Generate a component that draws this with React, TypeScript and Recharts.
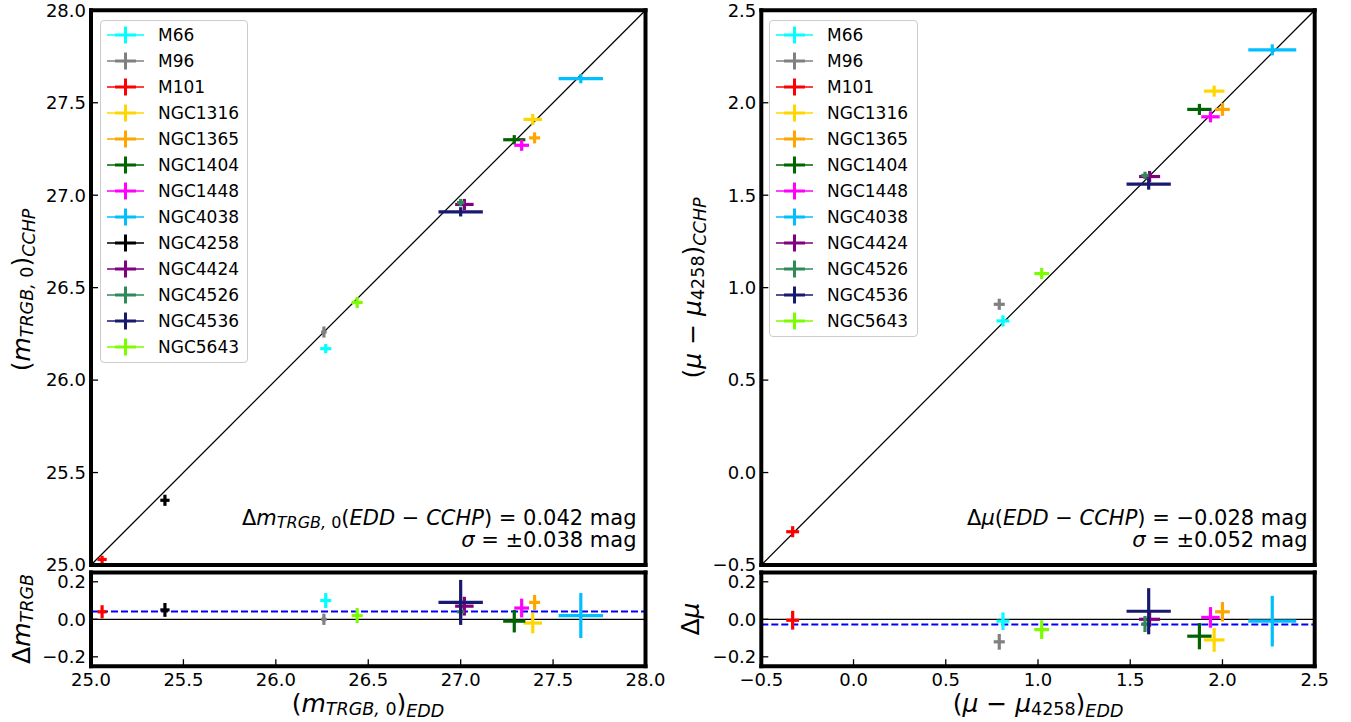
import React from 'react';
import { ScatterChart, Scatter, XAxis, YAxis, ErrorBar, ReferenceLine } from 'recharts';

const FONT = '"DejaVu Sans", Verdana, sans-serif';

// left panel: TRGB magnitudes, EDD (x) vs CCHP (y)
const namesA = ['M66', 'M96', 'M101', 'NGC1316', 'NGC1365', 'NGC1404', 'NGC1448', 'NGC4038', 'NGC4258', 'NGC4424', 'NGC4526', 'NGC4536', 'NGC5643'];
const colorsA = ['#00ffff', '#808080', '#ff0000', '#ffd700', '#ffa500', '#006400', '#ff00ff', '#00bfff', '#000000', '#800080', '#2e8b57', '#191970', '#7cfc00'];
const eddA = [26.27, 26.26, 25.06, 27.39, 27.40, 27.29, 27.33, 27.65, 25.40, 27.02, 27.00, 27.00, 26.44];
const cchpA = [26.17, 26.26, 25.03, 27.41, 27.31, 27.30, 27.27, 27.63, 25.35, 26.95, 26.96, 26.91, 26.42];
const eddErrA = [0.03, 0.015, 0.025, 0.05, 0.03, 0.06, 0.04, 0.12, 0.025, 0.05, 0.02, 0.12, 0.03];
const cchpErrA = [0.025, 0.03, 0.02, 0.03, 0.03, 0.025, 0.03, 0.025, 0.03, 0.03, 0.02, 0.025, 0.03];
const diffA = [0.10, 0.00, 0.04, -0.02, 0.09, -0.01, 0.06, 0.02, 0.05, 0.07, 0.04, 0.09, 0.02];
const diffErrA = [0.04, 0.03, 0.035, 0.055, 0.04, 0.06, 0.05, 0.12, 0.037, 0.05, 0.03, 0.12, 0.04];
const meanA = 0.042;

// right panel: distance moduli relative to NGC4258
const namesB = ['M66', 'M96', 'M101', 'NGC1316', 'NGC1365', 'NGC1404', 'NGC1448', 'NGC4038', 'NGC4424', 'NGC4526', 'NGC4536', 'NGC5643'];
const colorsB = ['#00ffff', '#808080', '#ff0000', '#ffd700', '#ffa500', '#006400', '#ff00ff', '#00bfff', '#800080', '#2e8b57', '#191970', '#7cfc00'];
const eddB = [0.81, 0.79, -0.33, 1.955, 2.00, 1.875, 1.935, 2.27, 1.605, 1.58, 1.60, 1.02];
const cchpB = [0.82, 0.91, -0.32, 2.063, 1.964, 1.964, 1.924, 2.286, 1.601, 1.607, 1.56, 1.076];
const eddErrB = [0.035, 0.03, 0.035, 0.056, 0.04, 0.066, 0.05, 0.13, 0.057, 0.02, 0.12, 0.04];
const cchpErrB = [0.03, 0.03, 0.03, 0.03, 0.035, 0.03, 0.03, 0.03, 0.03, 0.02, 0.03, 0.03];
const diffB = [-0.01, -0.12, -0.005, -0.11, 0.04, -0.09, 0.01, -0.01, 0.0, -0.025, 0.043, -0.055];
const diffErrB = [0.047, 0.042, 0.05, 0.063, 0.052, 0.07, 0.055, 0.135, 0.04, 0.043, 0.123, 0.05];
const meanB = -0.028;

const ticksA = [25, 25.5, 26, 26.5, 27, 27.5, 28];
const ticksB = [-0.5, 0, 0.5, 1, 1.5, 2, 2.5];
const ticksRes = [-0.2, 0, 0.2];

type Pt = { x: number; y: number; xe: number; ye: number };
type Series = { name: string; color: string; pts: Pt[] };

const seriesOf = (names: string[], colors: string[], xs: number[], ys: number[], xe: number[], ye: number[]): Series[] =>
  names.map((name, i) => ({ name, color: colors[i], pts: [{ x: xs[i], y: ys[i], xe: xe[i], ye: ye[i] }] }));

const mainA = seriesOf(namesA, colorsA, eddA, cchpA, eddErrA, cchpErrA);
const resA = seriesOf(namesA, colorsA, eddA, diffA, eddErrA, diffErrA);
const mainB = seriesOf(namesB, colorsB, eddB, cchpB, eddErrB, cchpErrB);
const resB = seriesOf(namesB, colorsB, eddB, diffB, eddErrB, diffErrB);

const fmt = (v: number) => (v < 0 ? '\u2212' : '') + Math.abs(v).toFixed(1);

const axisLine = { stroke: '#000', strokeWidth: 4, strokeLinecap: 'square' as const };
const tickLine = { stroke: '#000', strokeWidth: 1.3 };
const tickFont = { fontSize: 18, fill: '#000', fontFamily: FONT };

function Plot(props: {
  width: number;
  height: number;
  margin: { top: number; right: number; bottom: number; left: number };
  yWidth: number;
  xDomain: [number, number];
  yDomain: [number, number];
  xTicks: number[];
  yTicks: number[];
  showX: boolean;
  series: Series[];
  children?: React.ReactNode;
}) {
  const { width, height, margin, yWidth, xDomain, yDomain, xTicks, yTicks, showX, series, children } = props;
  // top / bottom / right axes get a 1px box (a zero-sized axis is not drawn)
  const m = { top: margin.top - 1, right: margin.right - 1, bottom: margin.bottom - 1, left: margin.left };
  return (
    <ScatterChart width={width} height={height} margin={m}>
      <XAxis xAxisId="b" type="number" dataKey="x" domain={xDomain} ticks={xTicks} interval={0} orientation="bottom"
        height={1} tickSize={-7} tickMargin={14} tick={showX ? tickFont : false} tickFormatter={fmt}
        axisLine={axisLine} tickLine={tickLine} allowDataOverflow />
      <XAxis xAxisId="t" type="number" domain={xDomain} ticks={xTicks} interval={0} orientation="top"
        height={1} tickSize={-7} tick={false} axisLine={axisLine} tickLine={tickLine} allowDataOverflow />
      <YAxis yAxisId="l" type="number" dataKey="y" domain={yDomain} ticks={yTicks} interval={0} width={yWidth}
        tickSize={-7} tickMargin={12} tick={tickFont} tickFormatter={fmt}
        axisLine={axisLine} tickLine={tickLine} allowDataOverflow />
      <YAxis yAxisId="r" type="number" orientation="right" domain={yDomain} ticks={yTicks} interval={0} width={1}
        tickSize={-7} tick={false} axisLine={axisLine} tickLine={tickLine} allowDataOverflow />
      {children}
      {series.map((s) => (
        <Scatter key={s.name} name={s.name} data={s.pts} xAxisId="b" yAxisId="l" shape={() => <g />}
          legendType="none" isAnimationActive={false}>
          <ErrorBar dataKey="xe" direction="x" width={0} stroke={s.color} strokeWidth={3.2} isAnimationActive={false} />
          <ErrorBar dataKey="ye" direction="y" width={0} stroke={s.color} strokeWidth={3.2} isAnimationActive={false} />
        </Scatter>
      ))}
    </ScatterChart>
  );
}

function LegendBox({ names, colors, left, width }: { names: string[]; colors: string[]; left: number; width: number }) {
  return (
    <div style={{
      position: 'absolute', left, top: 20, width, boxSizing: 'border-box', padding: '1px 0 2px 0',
      border: '1px solid #cccccc', borderRadius: 4, background: 'rgba(255,255,255,0.8)',
      fontFamily: FONT, fontSize: 17, color: '#000',
    }}>
      {names.map((n, i) => (
        <div key={n} style={{ height: 26, display: 'flex', alignItems: 'center' }}>
          <svg width={50} height={26} style={{ marginLeft: 6, flex: 'none' }}>
            <line x1={0} x2={37} y1={13} y2={13} stroke={colors[i]} strokeWidth={1.5} />
            <line x1={8} x2={29} y1={13} y2={13} stroke={colors[i]} strokeWidth={3} />
            <line x1={18.5} x2={18.5} y1={4.5} y2={21.5} stroke={colors[i]} strokeWidth={3} />
          </svg>
          <span style={{ marginLeft: 1 }}>{n}</span>
        </div>
      ))}
    </div>
  );
}

const T = 25; // axis title size
const S = 17.5; // subscript size

function Labels() {
  const it = { fontStyle: 'italic' as const };
  return (
    <svg width={1351} height={722} style={{ position: 'absolute', left: 0, top: 0, pointerEvents: 'none' }}
      fontFamily={FONT} fill="#000">
      {/* left axis titles */}
      <text x={368} y={712} fontSize={T} textAnchor="middle">
        (<tspan {...it}>m</tspan>
        <tspan dy={3} fontSize={S} {...it}>TRGB, </tspan><tspan fontSize={S}>0</tspan>
        <tspan dy={-3}>)</tspan>
        <tspan dy={5} fontSize={S} {...it}>EDD</tspan>
      </text>
      <text transform="translate(30,290) rotate(-90)" fontSize={T} textAnchor="middle">
        (<tspan {...it}>m</tspan>
        <tspan dy={3} fontSize={S} {...it}>TRGB, </tspan><tspan fontSize={S}>0</tspan>
        <tspan dy={-3}>)</tspan>
        <tspan dy={5} fontSize={S} {...it}>CCHP</tspan>
      </text>
      <text transform="translate(30,619) rotate(-90)" fontSize={T} textAnchor="middle">
        {'\u0394'}<tspan {...it}>m</tspan>
        <tspan dy={3} fontSize={S} {...it}>TRGB</tspan>
      </text>
      {/* right axis titles */}
      <text x={1038} y={712} fontSize={T} textAnchor="middle">
        (<tspan {...it}>{'\u03bc'}</tspan>{' \u2212 '}<tspan {...it}>{'\u03bc'}</tspan>
        <tspan dy={3} fontSize={S}>4258</tspan>
        <tspan dy={-3}>)</tspan>
        <tspan dy={5} fontSize={S} {...it}>EDD</tspan>
      </text>
      <text transform="translate(701,288) rotate(-90)" fontSize={T} textAnchor="middle">
        (<tspan {...it}>{'\u03bc'}</tspan>{' \u2212 '}<tspan {...it}>{'\u03bc'}</tspan>
        <tspan dy={3} fontSize={S}>4258</tspan>
        <tspan dy={-3}>)</tspan>
        <tspan dy={5} fontSize={S} {...it}>CCHP</tspan>
      </text>
      <text transform="translate(699,619) rotate(-90)" fontSize={T} textAnchor="middle">
        {'\u0394'}<tspan {...it}>{'\u03bc'}</tspan>
      </text>
      {/* annotations */}
      <text x={636.5} y={525} fontSize={21} textAnchor="end">
        {'\u0394'}<tspan {...it}>m</tspan>
        <tspan dy={3} fontSize={16} {...it}>TRGB, </tspan><tspan fontSize={16}>0</tspan>
        <tspan dy={-3}>(</tspan><tspan {...it}>EDD</tspan>{' \u2212 '}<tspan {...it}>CCHP</tspan>{') = 0.042 mag'}
      </text>
      <text x={636.5} y={547} fontSize={21} textAnchor="end">
        <tspan {...it}>{'\u03c3'}</tspan>{' = \u00b10.038 mag'}
      </text>
      <text x={1307.5} y={525} fontSize={21} textAnchor="end">
        {'\u0394'}<tspan {...it}>{'\u03bc'}</tspan>(<tspan {...it}>EDD</tspan>{' \u2212 '}<tspan {...it}>CCHP</tspan>{') = \u22120.028 mag'}
      </text>
      <text x={1307.5} y={547} fontSize={21} textAnchor="end">
        <tspan {...it}>{'\u03c3'}</tspan>{' = \u00b10.052 mag'}
      </text>
    </svg>
  );
}

export default function App() {
  const mainMargin = (right: number) => ({ top: 10.3, right, bottom: 15, left: 0 });
  const resMargin = (right: number) => ({ top: 12.4, right, bottom: 55.8, left: 0 });
  return (
    <div style={{ position: 'absolute', left: 0, top: 0, width: 1351, height: 722, background: '#fff', fontFamily: FONT }}>
      <div style={{ position: 'absolute', left: 0, top: 0 }}>
        <Plot width={680} height={580} margin={mainMargin(34.5)} yWidth={91} xDomain={[25, 28]} yDomain={[25, 28]}
          xTicks={ticksA} yTicks={ticksA} showX={false} series={mainA}>
          <ReferenceLine xAxisId="b" yAxisId="l" segment={[{ x: 25, y: 25 }, { x: 28, y: 28 }]} stroke="#000" strokeWidth={1.3} />
        </Plot>
      </div>
      <div style={{ position: 'absolute', left: 0, top: 560 }}>
        <Plot width={680} height={162} margin={resMargin(34.5)} yWidth={91} xDomain={[25, 28]} yDomain={[-0.25, 0.25]}
          xTicks={ticksA} yTicks={ticksRes} showX series={resA}>
          <ReferenceLine xAxisId="b" yAxisId="l" y={0} stroke="#000" strokeWidth={1.3} />
          <ReferenceLine xAxisId="b" yAxisId="l" y={meanA} stroke="#0000ff" strokeWidth={2} strokeDasharray="7 3" />
        </Plot>
      </div>
      <div style={{ position: 'absolute', left: 680, top: 0 }}>
        <Plot width={660} height={580} margin={mainMargin(25.3)} yWidth={81.3} xDomain={[-0.5, 2.5]} yDomain={[-0.5, 2.5]}
          xTicks={ticksB} yTicks={ticksB} showX={false} series={mainB}>
          <ReferenceLine xAxisId="b" yAxisId="l" segment={[{ x: -0.5, y: -0.5 }, { x: 2.5, y: 2.5 }]} stroke="#000" strokeWidth={1.3} />
        </Plot>
      </div>
      <div style={{ position: 'absolute', left: 680, top: 560 }}>
        <Plot width={660} height={162} margin={resMargin(25.3)} yWidth={81.3} xDomain={[-0.5, 2.5]} yDomain={[-0.25, 0.25]}
          xTicks={ticksB} yTicks={ticksRes} showX series={resB}>
          <ReferenceLine xAxisId="b" yAxisId="l" y={0} stroke="#000" strokeWidth={1.3} />
          <ReferenceLine xAxisId="b" yAxisId="l" y={meanB} stroke="#0000ff" strokeWidth={2} strokeDasharray="7 3" />
        </Plot>
      </div>
      <LegendBox names={namesA} colors={colorsA} left={100} width={148} />
      <LegendBox names={namesB} colors={colorsB} left={769} width={149} />
      <Labels />
    </div>
  );
}
